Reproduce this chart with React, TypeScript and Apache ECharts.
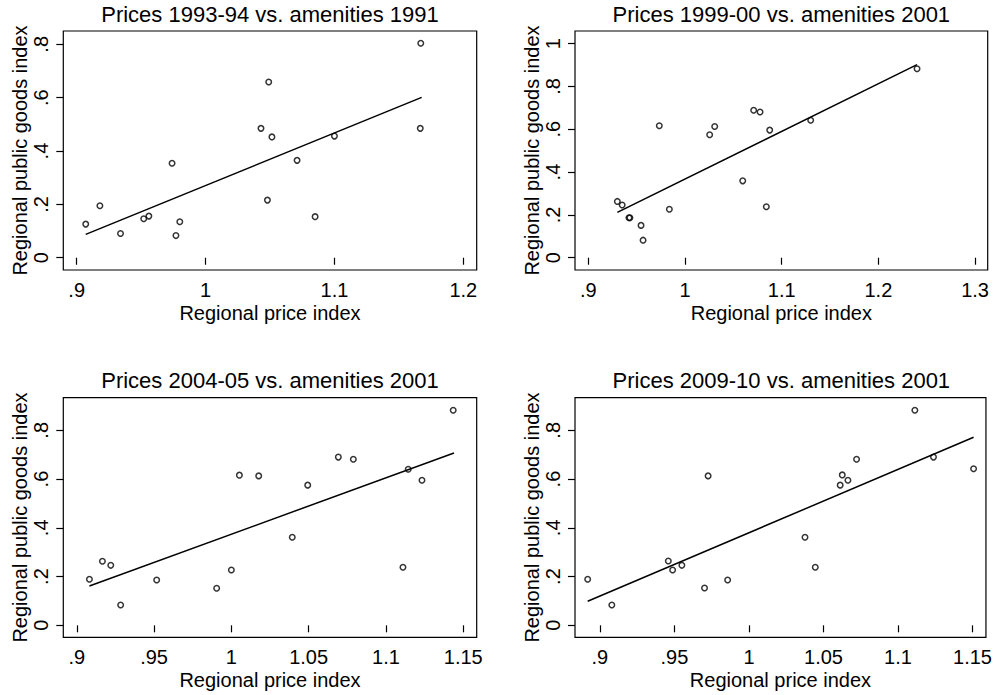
import React, { useEffect, useRef } from "react";
import * as echarts from "echarts";

// Panel titles
const titles = [
  "Prices 1993-94 vs. amenities 1991",
  "Prices 1999-00 vs. amenities 2001",
  "Prices 2004-05 vs. amenities 2001",
  "Prices 2009-10 vs. amenities 2001",
];

// Panel 1: prices 1993-94 vs amenities 1991
const price9394 = [0.907, 0.918, 0.934, 0.952, 0.956, 0.974, 0.977, 0.98, 1.043, 1.049, 1.0515, 1.048, 1.071, 1.085, 1.1, 1.167, 1.1666];
const amen1991 = [0.126, 0.195, 0.091, 0.146, 0.156, 0.354, 0.083, 0.135, 0.485, 0.659, 0.453, 0.216, 0.365, 0.154, 0.456, 0.804, 0.485];
const fitX1 = [0.907, 1.1677];
const fitY1 = [0.0875, 0.601];

// Panel 2: prices 1999-00 vs amenities 2001
const price9900 = [0.93, 0.935, 0.942, 0.943, 0.9545, 0.9566, 0.9734, 0.9838, 1.0255, 1.0307, 1.0597, 1.071, 1.0776, 1.0876, 1.0841, 1.13, 1.24];
const amen2001a = [0.263, 0.246, 0.187, 0.187, 0.151, 0.082, 0.616, 0.226, 0.574, 0.613, 0.359, 0.689, 0.681, 0.596, 0.238, 0.642, 0.883];
const fitX2 = [0.93, 1.24];
const fitY2 = [0.2115, 0.902];

// Panel 3: prices 2004-05 vs amenities 2001
const price0405 = [0.9082, 0.9166, 0.922, 0.9284, 0.9517, 0.9905, 1.0, 1.0052, 1.0177, 1.0394, 1.0494, 1.0692, 1.0789, 1.111, 1.1144, 1.1233, 1.1435];
const amen2001b = [0.189, 0.263, 0.246, 0.083, 0.186, 0.152, 0.227, 0.616, 0.613, 0.361, 0.575, 0.69, 0.681, 0.238, 0.64, 0.595, 0.882];
const fitX3 = [0.9082, 1.144];
const fitY3 = [0.161, 0.707];

// Panel 4: prices 2009-10 vs amenities 2001
const price0910 = [0.8918, 0.908, 0.9459, 0.9488, 0.955, 0.9702, 0.9726, 0.9857, 1.0376, 1.0445, 1.0612, 1.0626, 1.0664, 1.0722, 1.1113, 1.1238, 1.1507];
const amen2001c = [0.189, 0.083, 0.264, 0.227, 0.246, 0.153, 0.613, 0.186, 0.361, 0.238, 0.575, 0.617, 0.595, 0.681, 0.882, 0.69, 0.642];
const fitX4 = [0.8918, 1.1507];
const fitY4 = [0.0985, 0.7715];

// Tick values
const xTicks1 = [0.9, 1, 1.1, 1.2];
const xTicks2 = [0.9, 1, 1.1, 1.2, 1.3];
const xTicks34 = [0.9, 0.95, 1, 1.05, 1.1, 1.15];
const yTicks1 = [0, 0.2, 0.4, 0.6, 0.8];
const yTicks2 = [0, 0.2, 0.4, 0.6, 0.8, 1];
const yTicks34 = [0, 0.2, 0.4, 0.6, 0.8];

const xName = "Regional price index";
const yName = "Regional public goods index";

const FONT = '"Liberation Sans", Arial, Helvetica, sans-serif';

const fmt = (v: number) => {
  const s = String(+Number(v).toFixed(3));
  if (s.startsWith("0.")) return s.slice(1);
  if (s.startsWith("-0.")) return "-" + s.slice(2);
  return s;
};

const panels = [
  { x: price9394, y: amen1991, fx: fitX1, fy: fitY1, xt: xTicks1, yt: yTicks1, xr: [0.8896, 1.2104], yr: [-0.046, 0.85] },
  { x: price9900, y: amen2001a, fx: fitX2, fy: fitY2, xt: xTicks2, yt: yTicks2, xr: [0.8862, 1.3131], yr: [-0.0574, 1.059] },
  { x: price0405, y: amen2001b, fx: fitX3, fy: fitY3, xt: xTicks34, yt: yTicks34, xr: [0.8913, 1.1587], yr: [-0.0492, 0.9337] },
  { x: price0910, y: amen2001c, fx: fitX4, fy: fitY4, xt: xTicks34, yt: yTicks34, xr: [0.8833, 1.159], yr: [-0.0492, 0.9337] },
];

const gridBoxes = [
  { left: 63.3, top: 31, width: 413.4, height: 239 },
  { left: 575, top: 31, width: 412.7, height: 239 },
  { left: 63.3, top: 397.7, width: 413.4, height: 239.6 },
  { left: 575, top: 397.7, width: 412.7, height: 239.6 },
];

export default function App() {
  const ref = useRef<HTMLDivElement>(null);

  useEffect(() => {
    if (!ref.current) return;
    const chart = echarts.init(ref.current, undefined, { renderer: "svg" });

    const grid = gridBoxes.map((g) => ({
      ...g,
      show: true,
      borderColor: "#000",
      borderWidth: 1.2,
      backgroundColor: "transparent",
      containLabel: false,
    }));

    const title = gridBoxes.map((g, i) => ({
      text: titles[i],
      left: g.left + g.width / 2,
      top: g.top - 28,
      textAlign: "center",
      padding: 0,
      textStyle: { fontFamily: FONT, fontSize: 22, fontWeight: "normal", color: "#000" },
    }));

    const xAxis = panels.map((p, i) => ({
      type: "value",
      gridIndex: i,
      min: p.xr[0],
      max: p.xr[1],
      name: xName,
      nameLocation: "middle",
      nameGap: 33,
      nameTextStyle: { fontFamily: FONT, fontSize: 20, color: "#000" },
      axisLine: { show: false },
      splitLine: { show: false },
      axisTick: { show: true, inside: false, length: 7, lineStyle: { color: "#000", width: 1.2 }, customValues: p.xt },
      axisLabel: {
        show: true,
        margin: 10,
        fontFamily: FONT,
        fontSize: 20,
        color: "#000",
        customValues: p.xt,
        formatter: (v: number) => fmt(v),
        showMinLabel: true,
        showMaxLabel: true,
      },
    }));

    const yAxis = panels.map((p, i) => ({
      type: "value",
      gridIndex: i,
      min: p.yr[0],
      max: p.yr[1],
      name: yName,
      nameLocation: "middle",
      nameGap: 33,
      nameTextStyle: { fontFamily: FONT, fontSize: 20, color: "#000" },
      axisLine: { show: false },
      splitLine: { show: false },
      axisTick: { show: true, inside: false, length: 7, lineStyle: { color: "#000", width: 1.2 }, customValues: p.yt },
      axisLabel: {
        show: true,
        margin: 12,
        rotate: 90,
        fontFamily: FONT,
        fontSize: 20,
        color: "#000",
        customValues: p.yt,
        formatter: (v: number) => fmt(v),
        showMinLabel: true,
        showMaxLabel: true,
      },
    }));

    const series: any[] = [];
    panels.forEach((p, i) => {
      series.push({
        type: "scatter",
        xAxisIndex: i,
        yAxisIndex: i,
        data: p.x.map((xv, k) => [xv, p.y[k]]),
        symbol: "circle",
        symbolSize: 5.5,
        itemStyle: { color: "rgba(0,0,0,0)", borderColor: "#000", borderWidth: 1.5 },
        clip: false,
      });
      series.push({
        type: "line",
        xAxisIndex: i,
        yAxisIndex: i,
        data: p.fx.map((xv, k) => [xv, p.fy[k]]),
        showSymbol: false,
        symbol: "none",
        lineStyle: { color: "#000", width: 1.5 },
        clip: false,
      });
    });

    chart.setOption({
      animation: false,
      backgroundColor: "#fff",
      textStyle: { fontFamily: FONT },
      title,
      grid,
      xAxis,
      yAxis,
      series,
    });

    return () => chart.dispose();
  }, []);

  return (
    <div
      ref={ref}
      style={{ position: "fixed", left: 0, top: 0, width: 995, height: 695, background: "#fff" }}
    />
  );
}
